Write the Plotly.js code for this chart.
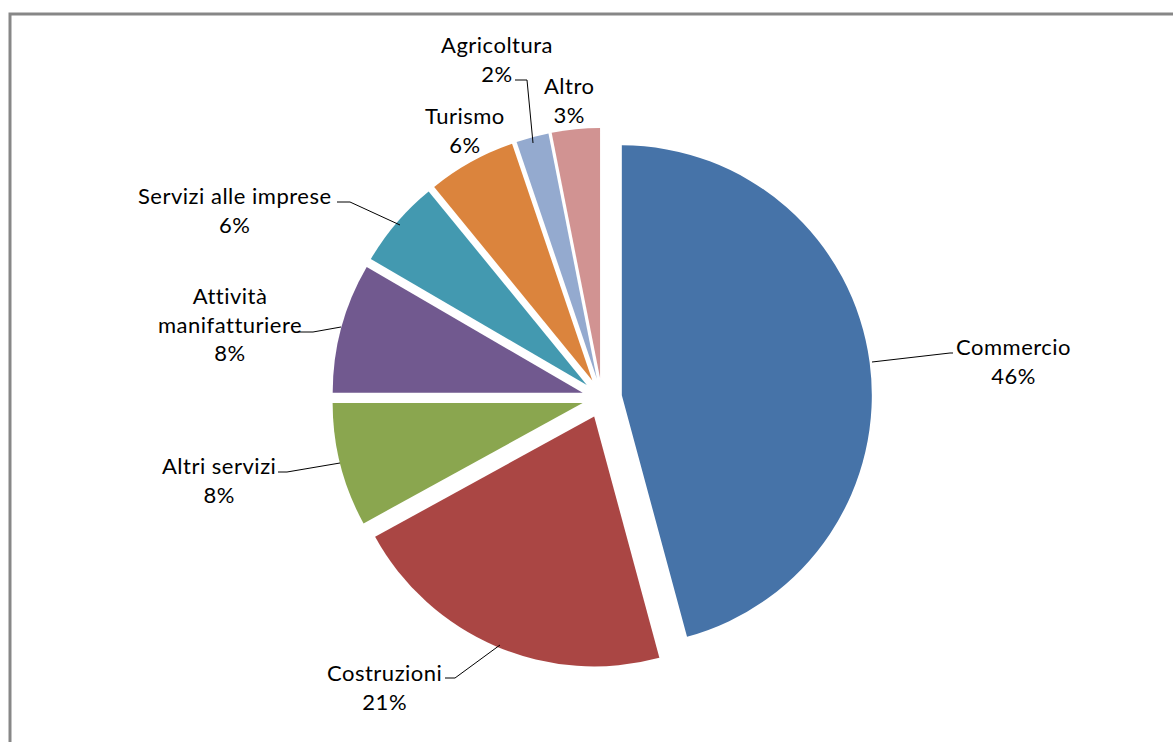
<!DOCTYPE html>
<html>
<head>
<meta charset="utf-8">
<script src="https://cdn.plot.ly/plotly-3.0.1.min.js"></script>
<style>
html, body { margin: 0; padding: 0; background: #fff; }
#chart { width: 1173px; height: 742px; }
.annotation-text { letter-spacing: 0.5px; }
</style>
</head>
<body>
<div id="chart"></div>
<script>
// Data
const categories = ["Commercio", "Costruzioni", "Altri servizi", "Attività<br>manifatturiere",
                    "Servizi alle imprese", "Turismo", "Agricoltura", "Altro"];
const values = [45.8, 21.2, 8.0, 8.4, 5.7, 5.7, 2.1, 3.1];
const colors = ["#4673A8", "#AA4644", "#8AA64F", "#71598F", "#4399B0", "#DB843D", "#94AACF", "#D19392"];

const W = 1173, H = 742;
const px = x => x / W;
const py = y => 1 - y / H;

const total = values.reduce((a, b) => a + b, 0);
const pctText = values.map(v => Math.round(v / total * 100) + "%");

// label block centres (px)
const labelPos = [[1013, 361], [384, 687], [219, 480], [230, 324], [235, 210], [465, 130], [497, 59], [569, 100]];

const annotations = categories.map((c, i) => ({
  xref: "paper", yref: "paper",
  x: px(labelPos[i][0]), y: py(labelPos[i][1]),
  xanchor: "center", yanchor: "middle",
  text: c + "<br>" + pctText[i],
  showarrow: false,
  align: "center",
  font: { family: "Lato, 'Open Sans', sans-serif", size: 22, color: "#000" }
}));

// leader lines (px polylines)
const leaders = [
  [[872, 362], [950, 353], [953, 353]],
  [[445, 678], [455, 678], [500, 645]],
  [[278, 472], [287, 472], [340, 463]],
  [[298, 332], [313, 332], [341, 327]],
  [[337, 202], [350, 202], [400, 225]],
  [[515, 80], [527, 80], [533, 143]]
];
const shapes = leaders.map(pts => ({
  type: "path", xref: "paper", yref: "paper",
  path: pts.map((p, k) => (k ? "L" : "M") + px(p[0]) + "," + py(p[1])).join(" "),
  line: { color: "#000", width: 1 }
}));
shapes.push({
  type: "rect", xref: "paper", yref: "paper",
  x0: px(10), x1: 1.02, y0: -0.02, y1: py(14),
  line: { color: "#878787", width: 3 }, fillcolor: "rgba(0,0,0,0)"
});

const trace = {
  type: "pie",
  labels: categories,
  values: values,
  sort: false,
  direction: "clockwise",
  rotation: 0,
  pull: values.map(() => 0.08),
  marker: { colors: colors, line: { width: 0 } },
  textinfo: "none",
  hoverinfo: "label+percent",
  showlegend: false,
  domain: { x: [px(332), px(872)], y: [py(668), py(128)] }
};

Plotly.newPlot("chart", [trace], {
  width: W, height: H,
  margin: { l: 0, r: 0, t: 0, b: 0 },
  paper_bgcolor: "#fff",
  showlegend: false,
  annotations: annotations,
  shapes: shapes
}, { displayModeBar: false, staticPlot: true });
</script>
</body>
</html>
